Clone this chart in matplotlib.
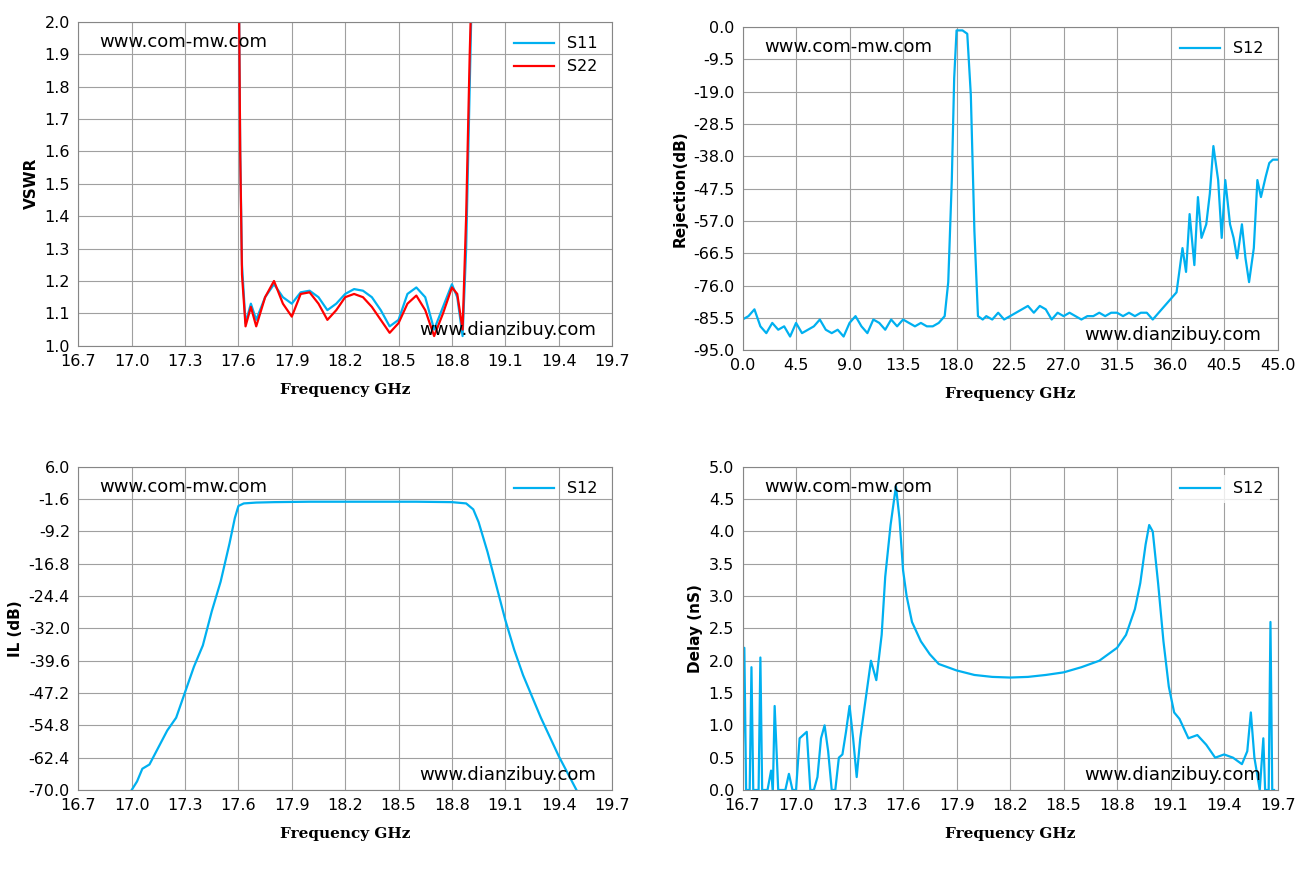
import matplotlib.pyplot as plt
import numpy as np

plt.rcParams['font.family'] = ['DejaVu Sans']

blue = '#00B0F0'
red = '#FF0000'

# VSWR
vswr_f = [17.60, 17.61, 17.62, 17.64, 17.67, 17.70, 17.75, 17.80, 17.85, 17.90, 17.95, 18.00, 18.05, 18.10,
          18.15, 18.20, 18.25, 18.30, 18.35, 18.40, 18.45, 18.50, 18.55, 18.60, 18.65, 18.70, 18.75, 18.80,
          18.83, 18.86, 18.88, 18.90, 18.92]
s11 = [2.3, 1.6, 1.25, 1.07, 1.13, 1.08, 1.15, 1.19, 1.15, 1.13, 1.165, 1.17, 1.15, 1.11,
       1.13, 1.16, 1.175, 1.17, 1.15, 1.11, 1.06, 1.08, 1.16, 1.18, 1.15, 1.05, 1.12, 1.19,
       1.15, 1.03, 1.3, 1.8, 2.3]
s22 = [2.3, 1.6, 1.22, 1.06, 1.12, 1.06, 1.15, 1.20, 1.13, 1.09, 1.16, 1.165, 1.13, 1.08,
       1.11, 1.15, 1.16, 1.15, 1.12, 1.08, 1.04, 1.07, 1.13, 1.155, 1.11, 1.03, 1.10, 1.18,
       1.16, 1.05, 1.4, 1.9, 2.3]

# Rejection wideband
rej_f = [0, 0.5, 1.0, 1.5, 2, 2.5, 3, 3.5, 4, 4.5, 5, 5.5, 6, 6.5, 7, 7.5, 8, 8.5, 9, 9.5, 10, 10.5, 11,
         11.5, 12, 12.5, 13, 13.5, 14, 14.5, 15, 15.5, 16, 16.5, 17, 17.3, 17.6, 17.8, 18.0, 18.5, 18.9,
         19.2, 19.5, 19.8, 20.2, 20.5, 21, 21.5, 22, 22.5, 23, 23.5, 24, 24.5, 25, 25.5, 26, 26.5, 27,
         27.5, 28, 28.5, 29, 29.5, 30, 30.5, 31, 31.5, 32, 32.5, 33, 33.5, 34, 34.5, 35, 35.5, 36, 36.5,
         37, 37.3, 37.6, 38, 38.3, 38.6, 39, 39.3, 39.6, 40, 40.3, 40.6, 41, 41.3, 41.6, 42, 42.3, 42.6,
         43, 43.3, 43.6, 44, 44.3, 44.6, 45]
rej = [-86, -85, -83, -88, -90, -87, -89, -88, -91, -87, -90, -89, -88, -86, -89, -90, -89, -91, -87, -85, -88,
       -90, -86, -87, -89, -86, -88, -86, -87, -88, -87, -88, -88, -87, -85, -75, -45, -15, -1, -1, -2,
       -20, -60, -85, -86, -85, -86, -84, -86, -85, -84, -83, -82, -84, -82, -83, -86, -84, -85,
       -84, -85, -86, -85, -85, -84, -85, -84, -84, -85, -84, -85, -84, -84, -86, -84, -82, -80, -78,
       -65, -72, -55, -70, -50, -62, -58, -49, -35, -45, -62, -45, -58, -62, -68, -58, -68, -75, -65,
       -45, -50, -44, -40, -39, -39]

# IL
il_f = [17.0, 17.03, 17.06, 17.1, 17.15, 17.2, 17.25, 17.3, 17.35, 17.4, 17.45, 17.5, 17.55, 17.58,
        17.6, 17.63, 17.7, 17.8, 18.0, 18.3, 18.6, 18.8, 18.88, 18.92, 18.95, 19.0, 19.05, 19.1,
        19.15, 19.2, 19.3, 19.4, 19.45, 19.5]
il = [-70, -68, -65, -64, -60, -56, -53, -47, -41, -36, -28, -21, -12, -6,
      -3.2, -2.6, -2.4, -2.3, -2.2, -2.2, -2.2, -2.3, -2.6, -4, -7, -14, -22, -30,
      -37, -43, -53, -62, -66, -70]

# Delay
dl_f = [16.70, 16.71, 16.72, 16.73, 16.74, 16.75, 16.76, 16.77, 16.78, 16.79, 16.80, 16.81, 16.82,
        16.84, 16.86, 16.87, 16.88, 16.90, 16.91, 16.92, 16.94, 16.96, 16.98, 17.00, 17.02, 17.04,
        17.06, 17.08, 17.10, 17.12, 17.14, 17.16, 17.18, 17.20, 17.22, 17.24, 17.26, 17.28, 17.30,
        17.32, 17.34, 17.36, 17.38, 17.40, 17.42, 17.45, 17.48, 17.50, 17.53, 17.56, 17.58, 17.60,
        17.62, 17.65, 17.70, 17.75, 17.80, 17.90, 18.00, 18.10, 18.20, 18.30, 18.40, 18.50, 18.60,
        18.70, 18.80, 18.85, 18.90, 18.93, 18.96, 18.98, 19.00, 19.03, 19.06, 19.09, 19.12, 19.15,
        19.20, 19.25, 19.30, 19.35, 19.40, 19.45, 19.50, 19.53, 19.55, 19.57, 19.60, 19.62, 19.63,
        19.64, 19.65, 19.66, 19.67, 19.68]
dl = [0.3, 2.2, 0.0, 0.0, 0.0, 1.9, 0.0, 0.0, 0.0, 0.0, 2.05, 0.0, 0.0,
      0.0, 0.3, 0.0, 1.3, 0.0, 0.0, 0.0, 0.0, 0.25, 0.0, 0.0, 0.8, 0.85, 0.9, 0.0, 0.0,
      0.2, 0.8, 1.0, 0.6, 0.0, 0.0, 0.5, 0.55, 0.9, 1.3, 0.8, 0.2, 0.8, 1.2, 1.6, 2.0, 1.7,
      2.4, 3.3, 4.1, 4.7, 4.2, 3.4, 3.0, 2.6, 2.3, 2.1, 1.95, 1.85, 1.78, 1.75, 1.74, 1.75,
      1.78, 1.82, 1.9, 2.0, 2.2, 2.4, 2.8, 3.2, 3.8, 4.1, 4.0, 3.2, 2.3, 1.6, 1.2, 1.1,
      0.8, 0.85, 0.7, 0.5, 0.55, 0.5, 0.4, 0.6, 1.2, 0.5, 0.0, 0.8, 0.0, 0.0, 0.0, 2.6, 0.0, 0.0]
dl = dl[:len(dl_f)]

fig = plt.figure(figsize=(13.05, 8.71), dpi=100)
axs = [fig.add_axes([0.06, 0.603, 0.409, 0.372]), fig.add_axes([0.569, 0.598, 0.410, 0.371]),
       fig.add_axes([0.06, 0.093, 0.409, 0.371]), fig.add_axes([0.569, 0.093, 0.410, 0.371])]

def style(ax, ylabel):
    ax.grid(True, color='#A0A0A0', linewidth=0.8)
    ax.set_axisbelow(True)
    for s in ax.spines.values():
        s.set_color('#868686')
    ax.tick_params(length=0, labelsize=11.5, pad=6)
    ax.set_ylabel(ylabel, fontsize=11, fontweight='bold')
    ax.set_xlabel('Frequency GHz', fontsize=11, fontweight='bold', family='DejaVu Serif', labelpad=10)

xt = np.round(np.arange(16.7, 19.71, 0.3), 1)

ax = axs[0]
ax.plot(vswr_f, s11, color=blue, lw=1.6, label='S11')
ax.plot(vswr_f, s22, color=red, lw=1.6, label='S22')
ax.set_xlim(16.7, 19.7); ax.set_ylim(1.0, 2.0)
ax.set_xticks(xt); ax.set_xticklabels([f'{v:.1f}' for v in xt])
ax.set_yticks(np.arange(1.0, 2.01, 0.1)); ax.set_yticklabels([f'{v:.1f}' for v in np.arange(1.0, 2.01, 0.1)])
style(ax, 'VSWR')
ax.legend(loc='upper right', fontsize=11.5, frameon=False, handlelength=2.5)

ax = axs[1]
ax.plot(rej_f, rej, color=blue, lw=1.6, label='S12')
ax.set_xlim(0, 45); ax.set_ylim(-95, 0)
xt2 = np.arange(0, 45.1, 4.5)
ax.set_xticks(xt2); ax.set_xticklabels([f'{v:.1f}' for v in xt2])
yt2 = [-95.0, -85.5, -76.0, -66.5, -57.0, -47.5, -38.0, -28.5, -19.0, -9.5, 0.0]
ax.set_yticks(yt2); ax.set_yticklabels([f'{v:.1f}' for v in yt2])
style(ax, 'Rejection(dB)')
ax.legend(loc='upper right', fontsize=11.5, frameon=False, handlelength=2.5)

ax = axs[2]
ax.plot(il_f, il, color=blue, lw=1.6, label='S12')
ax.set_xlim(16.7, 19.7); ax.set_ylim(-70, 6)
ax.set_xticks(xt); ax.set_xticklabels([f'{v:.1f}' for v in xt])
yt3 = np.arange(-70, 6.1, 7.6)
ax.set_yticks(yt3); ax.set_yticklabels([f'{v:.1f}' for v in yt3])
style(ax, 'IL (dB)')
ax.legend(loc='upper right', fontsize=11.5, frameon=False, handlelength=2.5)

ax = axs[3]
ax.plot(dl_f, dl, color=blue, lw=1.6, label='S12')
ax.set_xlim(16.7, 19.7); ax.set_ylim(0, 5)
ax.set_xticks(xt); ax.set_xticklabels([f'{v:.1f}' for v in xt])
yt4 = np.arange(0, 5.01, 0.5)
ax.set_yticks(yt4); ax.set_yticklabels([f'{v:.1f}' for v in yt4])
style(ax, 'Delay (nS)')
ax.legend(loc='upper right', fontsize=11.5, frameon=True, edgecolor='none', handlelength=2.5)

for ax in axs:
    ax.text(0.04, 0.965, 'www.com-mw.com', transform=ax.transAxes, fontsize=13, va='top')
    ax.text(0.97, 0.02, 'www.dianzibuy.com', transform=ax.transAxes, fontsize=13, ha='right', va='bottom')

fig.savefig('out.png', dpi=100, facecolor='white')
